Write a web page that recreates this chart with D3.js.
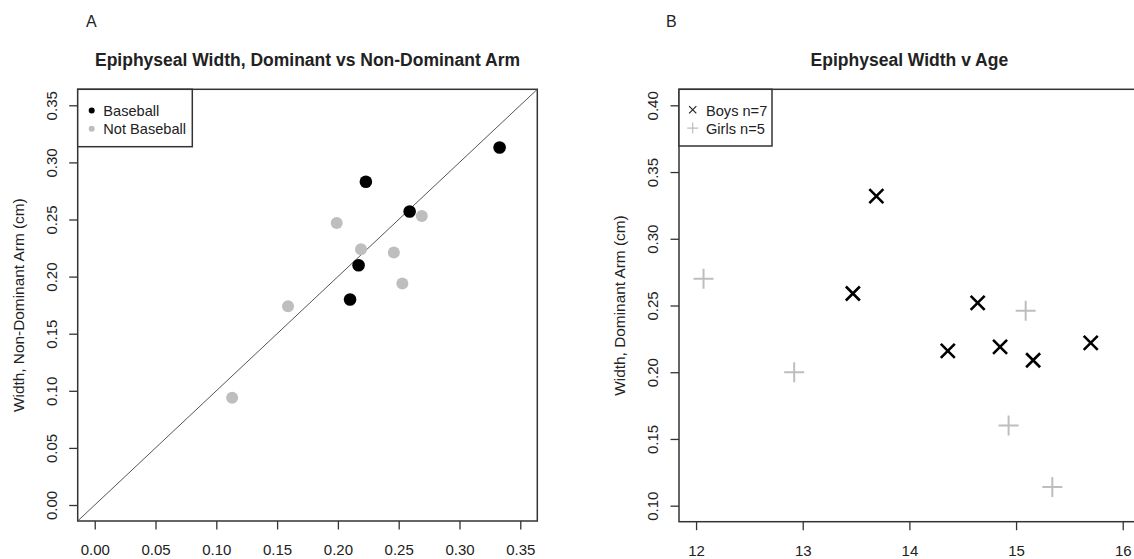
<!DOCTYPE html>
<html lang="en">
  <head>
    <meta charset="utf-8">
    <title>Epiphyseal width</title>
    <script src="https://cdn.jsdelivr.net/npm/d3@7"></script>
    <style>
      body { margin: 0; background: #fff; }
      svg text { font-family: "Liberation Sans", Arial, sans-serif; fill: #222; }
    </style>
  </head>
  <body>
    <svg width="1134" height="559"></svg>

    <script>
    // panel A: dominant (x) vs non-dominant (y) width, cm
    var baseballX = [0.333, 0.223, 0.259, 0.217, 0.210];
    var baseballY = [0.313, 0.283, 0.257, 0.210, 0.180];
    var notBaseballX = [0.199, 0.269, 0.219, 0.246, 0.253, 0.159, 0.113];
    var notBaseballY = [0.247, 0.253, 0.224, 0.221, 0.194, 0.174, 0.094];
    var ticksA = [0, 0.05, 0.10, 0.15, 0.20, 0.25, 0.30, 0.35];
    var legendA = ["Baseball", "Not Baseball"];

    // panel B: age vs dominant arm width
    var boysAge = [13.69, 13.47, 14.64, 14.36, 14.85, 15.16, 15.70];
    var boysWidth = [0.332, 0.259, 0.252, 0.216, 0.219, 0.209, 0.222];
    var girlsAge = [12.07, 12.92, 15.09, 14.93, 15.34];
    var girlsWidth = [0.270, 0.200, 0.246, 0.160, 0.114];
    var ticksBx = [12, 13, 14, 15, 16];
    var ticksBy = [0.10, 0.15, 0.20, 0.25, 0.30, 0.35, 0.40];
    var legendB = ["Boys n=7", "Girls n=5"];

    var svg = d3.select("svg");
    var grey = "#bebebe";

    // R style: 4% padding on each side of the limits
    function pad(lo, hi) { var d = (hi - lo) * 0.04; return [lo - d, hi + d]; }

    function frame(x, y, xt, yt, xfmt, yfmt) {
      var g = svg.append("g");
      var x0 = x.range()[0], y0 = y.range()[0];

      var ax = g.append("g")
          .attr("transform", "translate(0," + y0 + ")")
          .call(d3.axisBottom(x).tickValues(xt).tickFormat(xfmt).tickSize(8.5).tickSizeOuter(0).tickPadding(15));
      ax.select(".domain").remove();
      ax.selectAll("line").attr("stroke", "#333").attr("stroke-width", 1.3);
      ax.selectAll("text").attr("font-size", 15).attr("fill", "#222");

      var ay = g.append("g")
          .attr("transform", "translate(" + x0 + ",0)")
          .call(d3.axisLeft(y).tickValues(yt).tickFormat(yfmt).tickSize(8.5).tickSizeOuter(0));
      ay.select(".domain").remove();
      ay.selectAll("line").attr("stroke", "#333").attr("stroke-width", 1.3);
      ay.selectAll("text").remove();
      ay.selectAll(".tick").append("text")
          .attr("transform", "translate(-21,0) rotate(-90)")
          .attr("text-anchor", "middle")
          .attr("font-size", 15)
          .attr("fill", "#222")
          .text(yfmt);

      g.append("rect")
          .attr("x", x0).attr("y", y.range()[1])
          .attr("width", x.range()[1] - x0).attr("height", y0 - y.range()[1])
          .attr("fill", "none").attr("stroke", "#333").attr("stroke-width", 1.5);
      return g;
    }

    function title(x, label, txt, lx) {
      var cx = (x.range()[0] + x.range()[1]) / 2;
      svg.append("text").attr("x", cx).attr("y", 66)
          .attr("text-anchor", "middle").attr("font-size", 17.5).attr("font-weight", "bold")
          .attr("fill", "#111").text(txt);
      svg.append("text").attr("x", lx).attr("y", 27)
          .attr("font-size", 16).attr("fill", "#111").text(label);
    }

    function ylabel(px, y, txt) {
      var cy = (y.range()[0] + y.range()[1]) / 2;
      svg.append("text")
          .attr("transform", "translate(" + px + "," + cy + ") rotate(-90)")
          .attr("text-anchor", "middle").attr("font-size", 15.4).text(txt);
    }

    function crossPath(cx, cy, s) {
      return "M" + (cx - s) + "," + (cy - s) + "L" + (cx + s) + "," + (cy + s) +
             "M" + (cx - s) + "," + (cy + s) + "L" + (cx + s) + "," + (cy - s);
    }
    function plusPath(cx, cy, s) {
      return "M" + (cx - s) + "," + cy + "L" + (cx + s) + "," + cy +
             "M" + cx + "," + (cy - s) + "L" + cx + "," + (cy + s);
    }

    /* PANEL A */
    var xA = d3.scaleLinear().domain(pad(0, 0.35)).range([77.7, 537.3]);
    var yA = d3.scaleLinear().domain(pad(0, 0.35)).range([521, 89.3]);
    var fmt2 = d3.format(".2f");

    frame(xA, yA, ticksA, ticksA, fmt2, fmt2);
    title(xA, "A", "Epiphyseal Width, Dominant vs Non-Dominant Arm", 86);
    ylabel(23.5, yA, "Width, Non-Dominant Arm (cm)");

    // 1:1 line
    svg.append("line")
        .attr("x1", xA(xA.domain()[0])).attr("y1", yA(yA.domain()[0]))
        .attr("x2", xA(xA.domain()[1])).attr("y2", yA(yA.domain()[1]))
        .attr("stroke", "#555").attr("stroke-width", 1);

    svg.append("g").selectAll("circle")
        .data(d3.zip(notBaseballX, notBaseballY))
      .enter().append("circle")
        .attr("cx", function(d) { return xA(d[0]); })
        .attr("cy", function(d) { return yA(d[1]); })
        .attr("r", 6)
        .attr("fill", grey);

    svg.append("g").selectAll("circle")
        .data(d3.zip(baseballX, baseballY))
      .enter().append("circle")
        .attr("cx", function(d) { return xA(d[0]); })
        .attr("cy", function(d) { return yA(d[1]); })
        .attr("r", 6.3)
        .attr("fill", "#000");

    svg.append("rect")
        .attr("x", 77.7).attr("y", 89.3).attr("width", 114.6).attr("height", 57.4)
        .attr("fill", "#fff").attr("stroke", "#333").attr("stroke-width", 1.5);
    legendA.forEach(function(t, i) {
      svg.append("circle").attr("cx", 91.7).attr("cy", 110.5 + i * 18.3).attr("r", 3)
          .attr("fill", i ? grey : "#000");
      svg.append("text").attr("x", 103.3).attr("y", 116 + i * 18.3)
          .attr("font-size", 14.6).text(t);
    });

    /* PANEL B */
    var xB = d3.scaleLinear().domain(pad(12, 16)).range([679, 1139.8]);
    var yB = d3.scaleLinear().domain(pad(0.10, 0.40)).range([521.7, 89.3]);

    frame(xB, yB, ticksBx, ticksBy, d3.format("d"), fmt2);
    title(xB, "B", "Epiphyseal Width v Age", 666);
    ylabel(624.5, yB, "Width, Dominant Arm (cm)");

    svg.append("g").selectAll("path")
        .data(d3.zip(girlsAge, girlsWidth))
      .enter().append("path")
        .attr("d", function(d) { return plusPath(xB(d[0]), yB(d[1]), 10); })
        .attr("stroke", grey).attr("stroke-width", 2).attr("fill", "none");

    svg.append("g").selectAll("path")
        .data(d3.zip(boysAge, boysWidth))
      .enter().append("path")
        .attr("d", function(d) { return crossPath(xB(d[0]), yB(d[1]), 7); })
        .attr("stroke", "#000").attr("stroke-width", 2.6).attr("fill", "none");

    svg.append("rect")
        .attr("x", 679).attr("y", 89.3).attr("width", 93).attr("height", 56.7)
        .attr("fill", "#fff").attr("stroke", "#333").attr("stroke-width", 1.5);
    legendB.forEach(function(t, i) {
      var cy = 109.8 + i * 18.3;
      svg.append("path")
          .attr("d", i ? plusPath(692.7, cy, 5.5) : crossPath(692.7, cy, 3.6))
          .attr("stroke", i ? grey : "#222").attr("stroke-width", 1.2).attr("fill", "none");
      svg.append("text").attr("x", 706).attr("y", 116 + i * 18.3)
          .attr("font-size", 14.6).text(t);
    });
    </script>
  </body>
</html>
